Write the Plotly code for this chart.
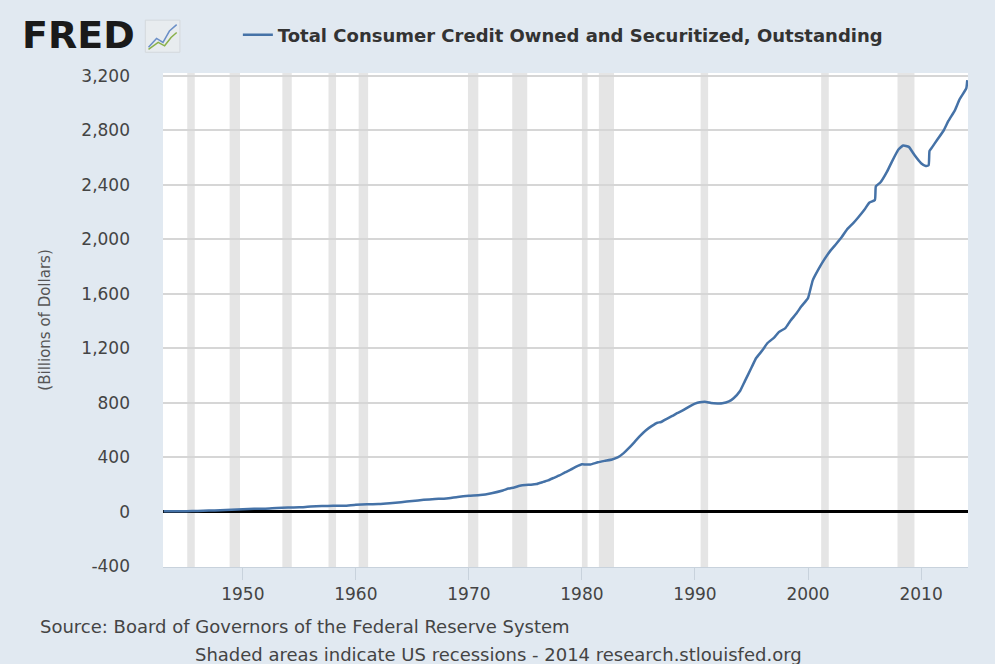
import plotly.graph_objects as go

# ---- data ----
dates = ["1943-01","1944-01","1945-01","1946-01","1947-01","1948-01","1949-01","1950-01",
         "1951-01","1952-01","1953-01","1954-01","1955-01","1956-01","1957-01","1958-01",
         "1959-01","1960-01","1961-01","1962-01","1963-01","1964-01","1965-01","1966-01",
         "1967-01","1968-01","1969-01","1970-01","1971-01","1972-01","1973-01","1973-07",
         "1974-01","1974-07","1975-01","1975-07","1976-01","1976-07","1977-01","1977-07",
         "1978-01","1978-07","1979-01","1979-07","1980-01","1980-05","1980-10","1981-06",
         "1982-01","1982-09","1983-03","1983-09","1984-03","1984-09","1985-03","1985-09",
         "1986-03","1986-09","1987-01","1987-06","1988-01","1988-06","1988-12","1989-06",
         "1990-01","1990-06","1991-01","1991-06","1992-01","1992-06","1993-01","1993-06",
         "1994-01","1994-06","1995-01","1995-06","1996-01","1996-06","1997-01","1997-06",
         "1998-01","1998-06","1999-01","1999-06","2000-01","2000-06","2000-12","2001-06",
         "2002-01","2002-06","2003-01","2003-06","2004-01","2004-06","2005-01","2005-06",
         "2005-12","2006-01","2006-06","2007-01","2007-06","2008-01","2008-06","2008-12",
         "2009-06","2010-01","2010-06","2010-09","2010-10","2011-01","2011-06","2012-01",
         "2012-06","2013-01","2013-06","2014-01","2014-02"]
credit = [6,5,5.5,7,10,13,16,19,
          23,24,29,32,34,40,43,45,
          46,53,56,58,64,72,80,89,
          95,99,110,119,124,138,158,172,
          180,192,198,200,205,218,232,250,
          268,290,310,332,350,348,348,365,
          375,385,400,430,470,515,560,600,
          630,655,660,680,705,725,745,770,
          795,805,808,800,797,798,812,835,
          890,960,1060,1130,1190,1240,1280,1320,
          1350,1400,1460,1510,1570,1700,1780,1850,
          1920,1960,2020,2070,2120,2160,2220,2270,
          2290,2390,2420,2500,2570,2660,2690,2680,
          2620,2560,2540,2545,2650,2680,2730,2800,
          2870,2950,3030,3110,3170]

recession_starts = ["1945-02-01","1948-11-01","1953-07-01","1957-08-01","1960-04-01","1969-12-01",
                    "1973-11-01","1980-01-01","1981-07-01","1990-07-01","2001-03-01","2007-12-01"]
recession_ends   = ["1945-10-01","1949-10-01","1954-05-01","1958-04-01","1961-02-01","1970-11-01",
                    "1975-03-01","1980-07-01","1982-11-01","1991-03-01","2001-11-01","2009-06-01"]

y_tickvals = [-400, 0, 400, 800, 1200, 1600, 2000, 2400, 2800, 3200]
y_ticktext = ["-400", "0", "400", "800", "1,200", "1,600", "2,000", "2,400", "2,800", "3,200"]
x_tickvals = ["1950-01-01","1960-01-01","1970-01-01","1980-01-01","1990-01-01","2000-01-01","2010-01-01"]
x_ticktext = ["1950","1960","1970","1980","1990","2000","2010"]

series_name = "Total Consumer Credit Owned and Securitized, Outstanding"

FONT = "DejaVu Sans"
BG = "#e1e9f1"

fig = go.Figure()
fig.add_trace(go.Scatter(
    x=dates, y=credit, mode="lines",
    name="<b>" + series_name + "</b>",
    line=dict(color="#4572a7", width=2.5, shape="spline", smoothing=0.4),
))

shapes = []
for s, e in zip(recession_starts, recession_ends):
    shapes.append(dict(type="rect", xref="x", yref="paper", x0=s, x1=e, y0=0, y1=1,
                       fillcolor="#e5e5e5", line=dict(width=0), layer="below"))

# small FRED chart icon
shapes.append(dict(type="rect", xref="paper", yref="paper", x0=-0.022, x1=0.021, y0=1.042, y1=1.107,
                   fillcolor="#e8ecef", line=dict(color="#d3d8dc", width=1), layer="above"))
shapes.append(dict(type="path", xref="paper", yref="paper",
                   path="M -0.018,1.052 L -0.008,1.070 L 0.000,1.062 L 0.008,1.085 L 0.017,1.098",
                   line=dict(color="#6b8fc7", width=1.5)))
shapes.append(dict(type="path", xref="paper", yref="paper",
                   path="M -0.018,1.048 L -0.006,1.062 L 0.002,1.055 L 0.010,1.072 L 0.017,1.082",
                   line=dict(color="#8ab04a", width=1.5)))

annotations = [
    dict(text="<b>FRED</b>", xref="paper", yref="paper", x=-0.178, y=1.077, xanchor="left",
         yanchor="middle", showarrow=False, font=dict(family=FONT, size=38, color="#1a1a1a")),
    dict(text="(Billions of Dollars)", xref="paper", yref="paper", x=-0.147, y=0.5,
         xanchor="center", yanchor="middle", textangle=-90, showarrow=False,
         font=dict(family=FONT, size=15, color="#555555")),
    dict(text="Source: Board of Governors of the Federal Reserve System", xref="paper", yref="paper",
         x=-0.155, y=-0.121, xanchor="left", yanchor="middle", showarrow=False,
         font=dict(family=FONT, size=18, color="#444444")),
    dict(text="Shaded areas indicate US recessions - 2014 research.stlouisfed.org", xref="paper",
         yref="paper", x=0.037, y=-0.177, xanchor="left", yanchor="middle", showarrow=False,
         font=dict(family=FONT, size=18, color="#444444")),
]

fig.update_layout(
    width=995, height=664,
    margin=dict(l=163, r=27, t=73, b=97),
    paper_bgcolor=BG, plot_bgcolor="white",
    font=dict(family=FONT, size=16, color="#444444"),
    showlegend=True,
    legend=dict(x=0.093, y=1.077, xanchor="left", yanchor="middle", orientation="h",
                bgcolor="rgba(0,0,0,0)", font=dict(family=FONT, size=18, color="#333333"),
                itemwidth=30),
    shapes=shapes,
    annotations=annotations,
    xaxis=dict(type="date", range=["1942-12-10", "2014-02-25"],
               tickvals=x_tickvals, ticktext=x_ticktext,
               ticks="outside", ticklen=12, tickcolor="#c8d2dc", tickwidth=1,
               showgrid=False, showline=True, linecolor="#c8d2dc", linewidth=1,
               tickfont=dict(family=FONT, size=17, color="#444444"), zeroline=False),
    yaxis=dict(range=[-404, 3222], tickvals=y_tickvals, ticktext=y_ticktext,
               showgrid=True, gridcolor="#d6d6d6", gridwidth=1.5,
               zeroline=True, zerolinecolor="#000000", zerolinewidth=2.5,
               ticks="", ticklabelstandoff=32,
               tickfont=dict(family=FONT, size=17, color="#444444"), showline=False),
)

fig.write_html("out.html", config={"displayModeBar": False},
               post_script="document.body.style.margin='0';")
